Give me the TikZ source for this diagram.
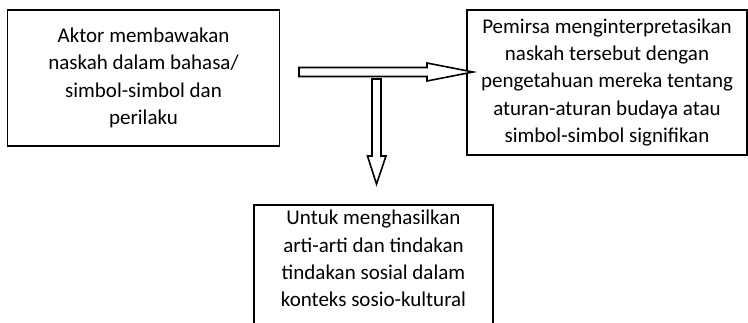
\documentclass[tikz,border=0pt]{standalone}
\usepackage{fontspec}
\setmainfont{Carlito}
\usetikzlibrary{calc}
\begin{document}
\begin{tikzpicture}[x=1pt,y=-1pt,
  frame/.style={draw=black, line width=1.6pt},
  txt/.style={align=center, inner sep=0pt,
    font=\fontsize{21pt}{27.3pt}\selectfont},
  boxnode/.style={frame, txt},
  blockarrow/.style={draw=black, fill=white, line width=1.6pt, line join=miter}]
\useasboundingbox (0,0) rectangle (748,322);
\clip (0,0) rectangle (748,322);

% actor box
\node[boxnode, minimum width=272pt, minimum height=136pt] (aktor) at (143.5,78)
  {Aktor membawakan\\naskah dalam bahasa/\\simbol-simbol dan\\perilaku};

% audience box
\node[boxnode, minimum width=280pt, minimum height=145pt] (pemirsa) at (607,82.5)
  {Pemirsa menginterpretasikan\\naskah tersebut dengan\\pengetahuan mereka tentang\\aturan-aturan budaya atau\\simbol-simbol signifikan};

% outcome box, running off the lower edge
\node[txt, anchor=north, minimum width=239pt, text depth=0pt] (hasil) at (373.5,205)
  {\rule{0pt}{19.5pt}Untuk menghasilkan\\arti-arti dan tindakan\\tindakan sosial dalam\\konteks sosio-kultural};
\draw[frame] (hasil.north west) rectangle ($(hasil.south east)+(0,60)$);

% horizontal block arrow: actor -> audience
\coordinate (hstart) at (299,72);
\coordinate (htip) at (473,72);
\draw[blockarrow] (hstart) ++(0,-4.5) -- ++(128,0) -- ++(0,-4.5) -- (htip)
  -- ($(htip)+(-46,9)$) -- ++(0,-4.5) -- ($(hstart)+(0,4.5)$) -- cycle;

% vertical block arrow: down to the outcome box
\coordinate (vstart) at (376.5,79);
\coordinate (vtip) at (376.5,184);
\draw[blockarrow] (vstart) ++(-4.5,0) -- ++(0,77) -- ++(-4.5,0) -- (vtip)
  -- ($(vtip)+(9.5,-28)$) -- ++(-5,0) -- ($(vstart)+(4.5,0)$) -- cycle;
\end{tikzpicture}
\end{document}
